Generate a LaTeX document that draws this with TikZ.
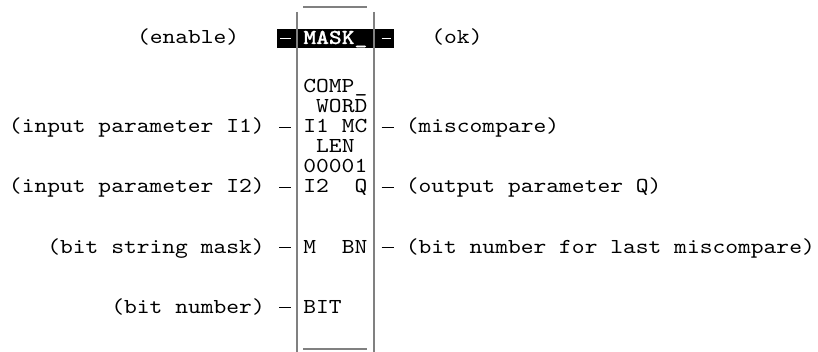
\documentclass[tikz,border=0pt]{standalone}
\usepackage{graphicx}
\newcommand\hsc[1]{\scalebox{1.143}[1]{#1}}
\newcommand\hsb[1]{\scalebox{1.143}[1]{\special{pdf:code 0.06 w 2 Tr}#1\special{pdf:code 0 Tr}}}
\begin{document}
\begin{tikzpicture}[x=0.5pt,y=-0.5pt,
  txt/.style={inner sep=0pt, outer sep=0pt, anchor=base west,
    font=\ttfamily\fontsize{10.65pt}{12pt}\selectfont},
  txtb/.style={txt, text=white,
    font=\ttfamily\bfseries\fontsize{10.65pt}{12pt}\selectfont},
  boxline/.style={draw=black!50, line width=1pt},
  pin/.style={draw=black, line width=0.9pt},
  pinw/.style={draw=white, line width=0.9pt}]
\useasboundingbox (0,0) rectangle (818,352);
% highlighted enable row
\fill[black] (276.5,29) rectangle (394,48);
% block outline
\coordinate (tl) at (297,12);
\coordinate (bl) at (297,352);
\coordinate (tr) at (373.8,12);
\coordinate (br) at (373.8,352);
\draw[boxline] (303.4,7) -- (367.4,7);
\draw[boxline] (tl) -- (bl);
\draw[boxline] (tr) -- (br);
\draw[boxline] (303.4,349) -- (367.4,349);
% block texts
\node[txtb] (mask) at (303.4,44) {\hsb{MASK\_}};
\node[txt] (comp) at (303.4,93) {\hsc{COMP\_}};
\node[txt] (word) at (316.2,113) {\hsc{WORD}};
\node[txt] (i1) at (303.4,133) {\hsc{I1}};
\node[txt] (mc) at (341.8,133) {\hsc{MC}};
\node[txt] (len) at (316.2,153) {\hsc{LEN}};
\node[txt] (num) at (303.4,173) {\hsc{00001}};
\node[txt] (i2) at (303.4,193) {\hsc{I2}};
\node[txt] (q) at (354.6,193) {\hsc{Q}};
\node[txt] (m) at (303.4,253) {\hsc{M}};
\node[txt] (bn) at (341.8,253) {\hsc{BN}};
\node[txt] (bit) at (303.4,313) {\hsc{BIT}};
% left labels
\node[txt] (enable) at (137,44) {\hsc{(enable)}};
\node[txt] (lI1) at (9,133) {\hsc{(input parameter I1)}};
\node[txt] (lI2) at (9,193) {\hsc{(input parameter I2)}};
\node[txt] (lM) at (47.4,253) {\hsc{(bit string mask)}};
\node[txt] (lBIT) at (111.4,313) {\hsc{(bit number)}};
% right labels
\node[txt] (ok) at (431.4,44) {\hsc{(ok)}};
\node[txt] (rMC) at (405.8,133) {\hsc{(miscompare)}};
\node[txt] (rQ) at (405.8,193) {\hsc{(output parameter Q)}};
\node[txt] (rBN) at (405.8,253) {\hsc{(bit number for last miscompare)}};
% pins
\coordinate (pEN) at (280,38.5);   \coordinate (bEN) at (291,38.5);
\coordinate (pOK) at (381.5,38.5); \coordinate (bOK) at (391,38.5);
\draw[pinw] (pEN) -- (bEN);
\draw[pinw] (pOK) -- (bOK);
\foreach \y/\n in {127.5/a,187.5/b,247.5/c,307.5/d}{
  \coordinate (pl\n) at (279,\y); \coordinate (bl\n) at (291,\y);
  \draw[pin] (pl\n) -- (bl\n);
}
\foreach \y/\n in {127.5/a,187.5/b,247.5/c}{
  \coordinate (br\n) at (381.5,\y); \coordinate (pr\n) at (393.5,\y);
  \draw[pin] (br\n) -- (pr\n);
}
\end{tikzpicture}
\end{document}
